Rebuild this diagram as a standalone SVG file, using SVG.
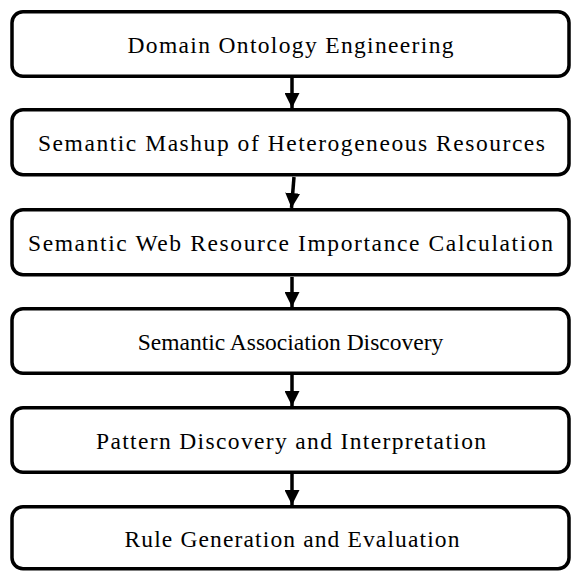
<svg xmlns="http://www.w3.org/2000/svg" width="571" height="572" viewBox="0 0 571 572">
<style>
.box{fill:#fff;stroke:#000;stroke-width:3.5}
.lbl{font-family:"Liberation Serif","Times New Roman",serif;font-size:23.5px;fill:#000;text-anchor:middle}
.conn line{stroke:#000;stroke-width:3.5}
</style>
<defs>
<marker id="ah" markerUnits="userSpaceOnUse" markerWidth="16" markerHeight="15" refX="15" refY="7.5" orient="auto">
<path d="M0,0 L15,7.5 L0,15 Z" fill="#000"/>
</marker>
</defs>
<rect width="571" height="572" fill="#fff"/>
<g id="n1"><rect class="box" x="12" y="11.75" width="557" height="64.5" rx="11"/><text class="lbl" x="290.5" y="52.5" textLength="326" lengthAdjust="spacing">Domain Ontology Engineering</text></g>
<g id="n2"><rect class="box" x="12" y="109.75" width="557" height="65" rx="11"/><text class="lbl" x="291.5" y="150.5" textLength="507" lengthAdjust="spacing">Semantic Mashup of Heterogeneous Resources</text></g>
<g id="n3"><rect class="box" x="12" y="209.75" width="557" height="65" rx="11"/><text class="lbl" x="290.5" y="250.5" textLength="525" lengthAdjust="spacing">Semantic Web Resource Importance Calculation</text></g>
<g id="n4"><rect class="box" x="12" y="308.75" width="557" height="64.5" rx="11"/><text class="lbl" x="290.5" y="349.5">Semantic Association Discovery</text></g>
<g id="n5"><rect class="box" x="12" y="407.75" width="557" height="64.5" rx="11"/><text class="lbl" x="291" y="448.5" textLength="390" lengthAdjust="spacing">Pattern Discovery and Interpretation</text></g>
<g id="n6"><rect class="box" x="12" y="506.75" width="557" height="62" rx="11"/><text class="lbl" x="292" y="546.5" textLength="335" lengthAdjust="spacing">Rule Generation and Evaluation</text></g>
<g class="conn" id="connectors">
<line x1="292" y1="78" x2="292" y2="108" marker-end="url(#ah)"/>
<line x1="294" y1="177" x2="291.5" y2="208" marker-end="url(#ah)"/>
<line x1="292" y1="277" x2="292" y2="307" marker-end="url(#ah)"/>
<line x1="292" y1="375" x2="292" y2="406" marker-end="url(#ah)"/>
<line x1="292" y1="474" x2="292" y2="505" marker-end="url(#ah)"/>
</g>
</svg>
